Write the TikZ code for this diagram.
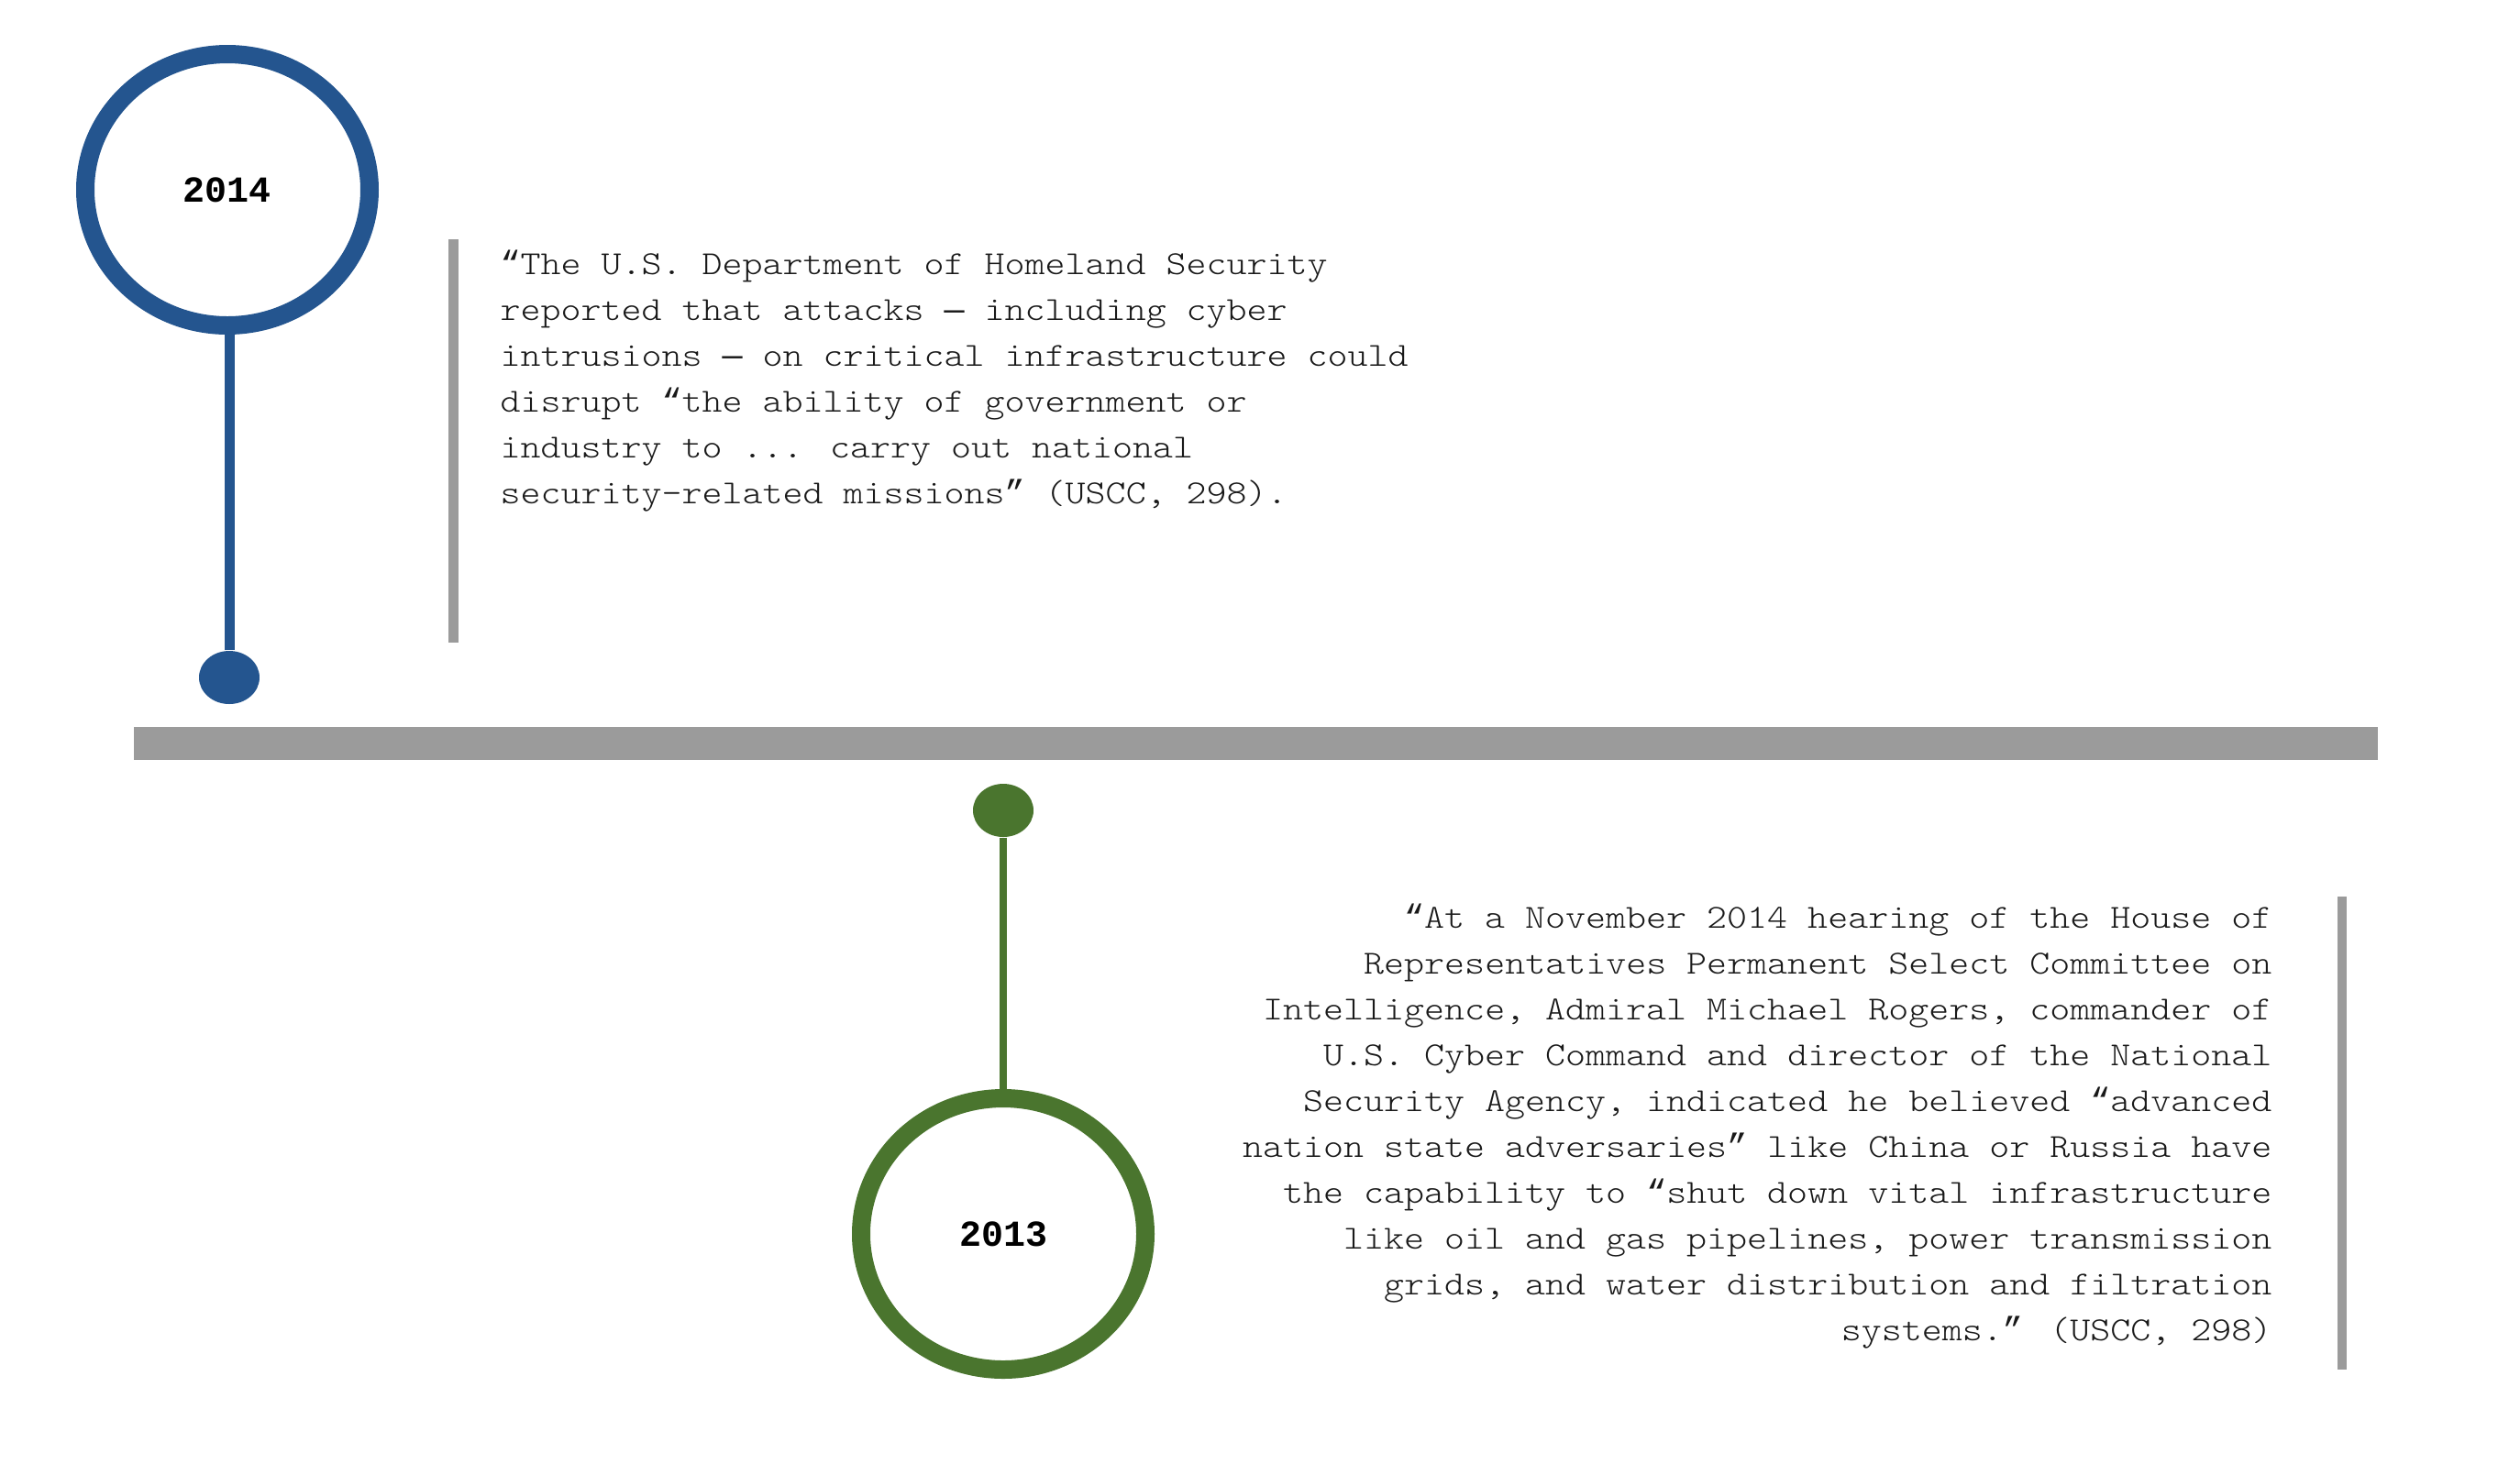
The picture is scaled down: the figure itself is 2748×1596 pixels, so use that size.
\documentclass[tikz,border=0pt]{standalone}
\usepackage{fontspec}
\newfontfamily\cour{lmmonolt10-regular.otf}[FakeStretch=1.143]
\newfontfamily\courbold{Liberation Mono Bold}
\newfontfamily\libmono{Liberation Mono}
\usetikzlibrary{shapes.geometric}
\definecolor{tlblue}{HTML}{24558F}
\definecolor{tlgreen}{HTML}{4A752E}
\definecolor{tlgray}{HTML}{9B9B9B}
\newcommand\tdots{...}
\newcommand\tlq{{\libmono “}}
\newcommand\trq{{\libmono ”}}
\newcommand\tem{{\libmono —}}
\begin{document}
\begin{tikzpicture}[x=0.3pt,y=-0.3pt,
  ring/.style={ellipse, draw, line width=6pt, minimum width=93pt, minimum height=88.8pt,
    inner sep=0pt, fill=white, font={\courbold\fontsize{12}{14}\selectfont}},
  knob/.style={ellipse, inner sep=0pt, minimum width=19.8pt, minimum height=17.4pt},
  quote/.style={inner sep=0pt, font={\cour\fontsize{11}{15}\selectfont}, text=black!90},
  bar/.style={fill=tlgray}
]
\useasboundingbox (0,0) rectangle (2748,1596);

% main timeline bar and quote bars
\fill[bar] (146,793) rectangle (2593,829);
\fill[bar] (489,261) rectangle (500,701);
\fill[bar] (2549,978) rectangle (2559,1494);

% 2014 marker
\node[ring, draw=tlblue] (c2014) at (248,207) {\raisebox{-1pt}{2014}};
\node[knob, fill=tlblue] (d2014) at (250,739) {};
\draw[tlblue, line width=3.3pt] (d2014.north) -- (d2014.north |- c2014.south);

% 2013 marker
\node[ring, draw=tlgreen] (c2013) at (1094,1346) {\raisebox{-1pt}{2013}};
\node[knob, fill=tlgreen] (d2013) at (1094,884) {};
\draw[tlgreen, line width=2.4pt] (d2013.south) -- (c2013.north);

% top quote
\foreach \txt [count=\i] in {
  {\tlq{}The U.S. Department of Homeland Security},
  {reported that attacks \tem{} including cyber},
  {intrusions \tem{} on critical infrastructure could},
  {disrupt \tlq{}the ability of government or},
  {industry to \tdots{} carry out national},
  {security-related missions\trq{} (USCC, 298).}}
  \node[quote, anchor=base west] (qa\i) at (545,{249+50*\i}) {\txt};

% bottom quote
\foreach \txt [count=\i] in {
  {\tlq{}At a November 2014 hearing of the House of},
  {Representatives Permanent Select Committee on},
  {Intelligence, Admiral Michael Rogers, commander of},
  {U.S. Cyber Command and director of the National},
  {Security Agency, indicated he believed \tlq{}advanced},
  {nation state adversaries\trq{} like China or Russia have},
  {the capability to \tlq{}shut down vital infrastructure},
  {like oil and gas pipelines, power transmission},
  {grids, and water distribution and filtration},
  {systems.\trq{} (USCC, 298)}}
  \node[quote, anchor=base east] (qb\i) at (2478,{962+50*\i}) {\txt};
\end{tikzpicture}
\end{document}
